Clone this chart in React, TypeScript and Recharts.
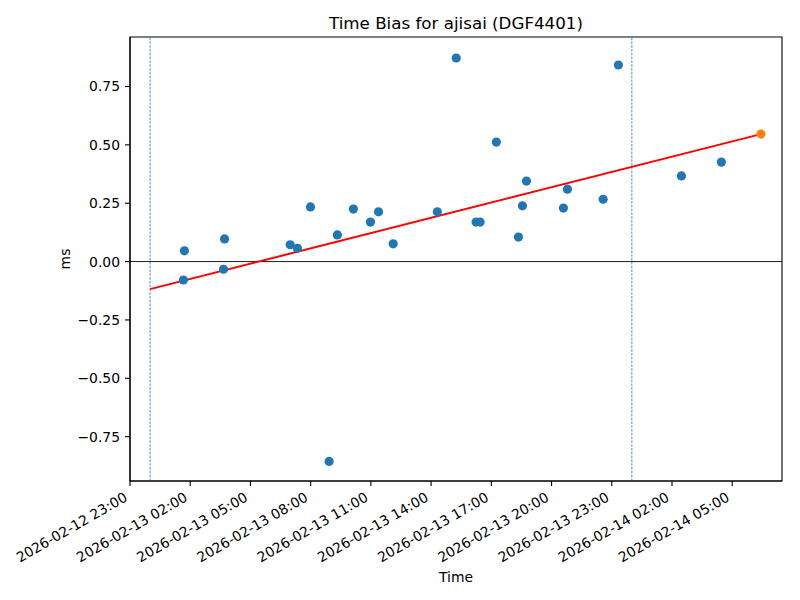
import React from 'react';
import { ScatterChart, Scatter, XAxis, YAxis, ReferenceLine, ReferenceArea } from 'recharts';

// x values: hours since 2026-02-12 23:00
const obsHours = [2.71, 2.66, 4.71, 4.66, 7.98, 8.34, 8.99, 9.92, 10.33, 11.13, 11.98, 12.38, 13.11, 15.31, 16.25, 17.24, 17.44, 18.25, 19.35, 19.55, 19.75, 21.59, 21.79, 23.57, 24.33, 27.47, 29.46];
const obsBiasMs = [0.046, -0.079, 0.097, -0.033, 0.072, 0.057, 0.234, -0.856, 0.114, 0.225, 0.169, 0.213, 0.076, 0.213, 0.872, 0.169, 0.169, 0.512, 0.105, 0.239, 0.345, 0.229, 0.310, 0.267, 0.842, 0.367, 0.426];
const predHours = [31.43];
const predBiasMs = [0.546];
const fitHours = [1.0, 31.43];
const fitBiasMs = [-0.118, 0.546];
const windowHours = [1.0, 25.0];
const xTickHours = [0, 3, 6, 9, 12, 15, 18, 21, 24, 27, 30];
const xTickLabels = [
  '2026-02-12 23:00', '2026-02-13 02:00', '2026-02-13 05:00', '2026-02-13 08:00',
  '2026-02-13 11:00', '2026-02-13 14:00', '2026-02-13 17:00', '2026-02-13 20:00',
  '2026-02-13 23:00', '2026-02-14 02:00', '2026-02-14 05:00',
];
const yTicks = [-0.75, -0.5, -0.25, 0, 0.25, 0.5, 0.75];
const xDomain = [0, 32.48];
const yDomain = [-0.94, 0.962];

const FONT = 'DejaVu Sans';
const BLUE = '#1f77b4';
const ORANGE = '#ff7f0e';

const obsData = obsHours.map((h, i) => ({ h, v: obsBiasMs[i] }));
const predData = predHours.map((h, i) => ({ h, v: predBiasMs[i] }));

const XTick = (props: any) => {
  const { x, y, payload } = props;
  const i = xTickHours.indexOf(payload.value);
  const ax = x - 1.7;
  const ay = y + 14.2;
  return (
    <text x={ax} y={ay} textAnchor="end" transform={`rotate(-30 ${ax} ${ay})`} fontSize={13.9} fontFamily={FONT} fill="#000">
      {xTickLabels[i]}
    </text>
  );
};

const dot = (color: string) => (p: any) => <circle cx={p.cx} cy={p.cy} r={4.6} fill={color} />;

export default function App() {
  return (
    <div style={{ position: 'absolute', left: 0, top: 0, width: 800, height: 600, background: '#fff' }}>
      <ScatterChart width={800} height={600} margin={{ top: 37, right: 18, bottom: 0, left: 0 }}>
        <XAxis
          type="number"
          dataKey="h"
          domain={xDomain}
          ticks={xTickHours}
          allowDataOverflow
          height={119}
          tickSize={5}
          tickMargin={0}
          tick={<XTick />}
          axisLine={{ stroke: '#000', strokeWidth: 1.1 }}
          tickLine={{ stroke: '#000', strokeWidth: 1.1 }}
        />
        <YAxis
          type="number"
          dataKey="v"
          domain={yDomain}
          ticks={yTicks}
          allowDataOverflow
          width={130}
          tickSize={5}
          tickMargin={5}
          tickFormatter={(v: number) => v.toFixed(2).replace('-', '\u2212')}
          tick={{ fontSize: 13.9, fontFamily: FONT, fill: '#000' }}
          axisLine={{ stroke: '#000', strokeWidth: 1.1 }}
          tickLine={{ stroke: '#000', strokeWidth: 1.1 }}
        />
        <ReferenceArea x1={xDomain[0]} x2={xDomain[1]} y1={yDomain[0]} y2={yDomain[1]} fill="none" stroke="#000" strokeWidth={1.1} ifOverflow="visible" />
        {windowHours.map((h) => (
          <ReferenceLine key={h} x={h} stroke={BLUE} strokeWidth={0.8} strokeDasharray="2.6 1.2" />
        ))}
        <ReferenceLine y={0} stroke="#000" strokeWidth={0.9} />
        <Scatter data={obsData} fill={BLUE} shape={dot(BLUE)} isAnimationActive={false} />
        <ReferenceLine
          segment={[{ x: fitHours[0], y: fitBiasMs[0] }, { x: fitHours[1], y: fitBiasMs[1] }]}
          stroke="#ff0000"
          strokeWidth={2}
        />
        <Scatter data={predData} fill={ORANGE} shape={dot(ORANGE)} isAnimationActive={false} />
      </ScatterChart>
      <svg width={800} height={600} style={{ position: 'absolute', left: 0, top: 0, pointerEvents: 'none' }}>
        <text x={456} y={28.5} textAnchor="middle" fontSize={16.7} fontFamily={FONT} fill="#000">
          Time Bias for ajisai (DGF4401)
        </text>
        <text x={456} y={582} textAnchor="middle" fontSize={13.9} fontFamily={FONT} fill="#000">
          Time
        </text>
        <text x={70} y={259} textAnchor="middle" transform="rotate(-90 70 259)" fontSize={13.9} fontFamily={FONT} fill="#000">
          ms
        </text>
      </svg>
    </div>
  );
}
